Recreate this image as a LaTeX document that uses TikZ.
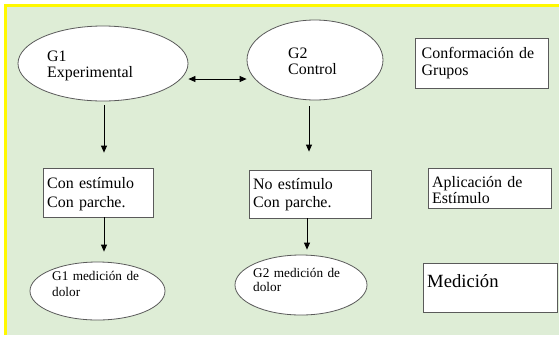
\documentclass[tikz,border=0pt]{standalone}
\usepackage{fontspec}
\setmainfont{Liberation Serif}
\usetikzlibrary{arrows.meta,shapes.geometric}
\definecolor{bggreen}{RGB}{222,237,214}
\definecolor{bordyellow}{RGB}{255,248,0}
\definecolor{framegray}{RGB}{90,90,90}
\tikzset{
  groupoval/.style={ellipse, draw=framegray, fill=white, line width=0.8bp, inner sep=0pt},
  labelbox/.style={rectangle, draw=framegray, fill=white, line width=0.8bp, inner sep=0pt},
  txt/.style={anchor=base west, align=left, inner sep=0pt, text width=150bp, font=\fontsize{16}{17}\selectfont},
  smalltxt/.style={txt, font=\fontsize{13.3}{16}\selectfont},
  arr/.style={-{Triangle[length=7bp,width=6bp]}, line width=0.8bp},
  dblarr/.style={{Triangle[length=7bp,width=6bp]}-{Triangle[length=7bp,width=6bp]}, line width=0.8bp}
}
\begin{document}
\begin{tikzpicture}[x=1bp, y=-1bp]
    \useasboundingbox (0,0) rectangle (559,337);
    % Draw the green page with the yellow edge
    \fill[white] (0,0) rectangle (559,337);
    \fill[bggreen] (6,6) rectangle (559,335);
    \draw[bordyellow, line width=2.5bp] (5.5,335) -- (5.5,5.5) -- (559,5.5);

    % Groups
    \node[groupoval, minimum width=170bp, minimum height=75bp] (g1) at (103,63.5) {};
    \node[txt] (g1txt) at (47,61) {G1\\Experimental};
    \node[groupoval, minimum width=136bp, minimum height=80bp] (g2) at (315,60) {};
    \node[txt] (g2txt) at (288,58) {G2\\Control};
    \node[labelbox, minimum width=133bp, minimum height=50bp] (conf) at (481.5,63) {};
    \node[txt, font=\fontsize{16}{18}\selectfont] (conftxt) at (421.5,58) {Conformación de\\Grupos};

    % Stimulus
    \node[labelbox, minimum width=110bp, minimum height=49bp] (est1) at (98,192.5) {};
    \node[txt, font=\fontsize{16}{20}\selectfont] (est1txt) at (47,188) {Con estímulo\\Con parche.};
    \node[labelbox, minimum width=122bp, minimum height=48bp] (est2) at (310,194) {};
    \node[txt, font=\fontsize{16}{19}\selectfont] (est2txt) at (253,189) {No estímulo\\Con parche.};
    \node[labelbox, minimum width=123bp, minimum height=40bp] (apl) at (489.5,188) {};
    \node[txt] (apltxt) at (432,187) {Aplicación de\\Estímulo};

    % Measurement
    \node[groupoval, minimum width=135bp, minimum height=58bp] (med1) at (97.5,291) {};
    \node[smalltxt] (med1txt) at (52,280.7) {G1 medición de\\dolor};
    \node[groupoval, minimum width=132bp, minimum height=60bp] (med2) at (301,285) {};
    \node[smalltxt, font=\fontsize{13.3}{15}\selectfont] (med2txt) at (253,277) {G2 medición de\\dolor};
    \node[labelbox, minimum width=134bp, minimum height=49bp] (medbox) at (490,287.5) {};
    \node[txt, font=\fontsize{18.7}{20}\selectfont] (medboxtxt) at (427,287) {Medición};

    % Arrows between the steps
    \coordinate (link) at (0,79);
    \draw[dblarr] (g1.east |- link) -- (g2.west |- link);
    \draw[arr, shorten <=4bp, shorten >=15bp] ([xshift=1bp]g1.south) -- ([xshift=1bp]g1.south |- est1.north);
    \draw[arr, shorten <=6bp, shorten >=18bp] ([xshift=-1bp]est2.north |- g2.south) -- ([xshift=-1bp]est2.north);
    \draw[arr, shorten >=10bp] ([xshift=1bp]g1.south |- est1.south) -- ([xshift=1bp]g1.south |- med1.north);
    \draw[arr, shorten >=5bp] ([xshift=-3bp]est2.south) -- ([xshift=-3bp]est2.south |- med2.north);
\end{tikzpicture}
\end{document}
